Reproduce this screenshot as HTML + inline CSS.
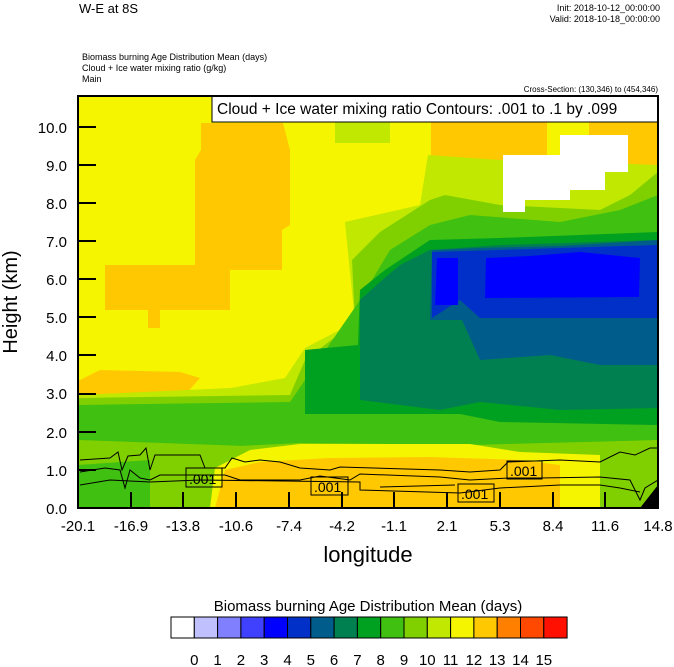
<!DOCTYPE html>
<html><head><meta charset="utf-8"><style>
body{margin:0;background:#fff;width:674px;height:667px;overflow:hidden;font-family:"Liberation Sans",sans-serif}
svg{position:absolute;left:0;top:0}
</style></head><body>
<svg width="674" height="667" viewBox="0 0 674 667" font-family="Liberation Sans, sans-serif">
<text x="79" y="13" font-size="13">W-E at 8S</text>
<text x="660" y="11" font-size="9" text-anchor="end">Init: 2018-10-12_00:00:00</text>
<text x="660" y="22" font-size="9" text-anchor="end">Valid: 2018-10-18_00:00:00</text>
<text x="82" y="60" font-size="9">Biomass burning Age Distribution Mean    (days)</text>
<text x="82" y="71" font-size="9">Cloud + Ice water mixing ratio    (g/kg)</text>
<text x="82" y="82" font-size="9">Main</text>
<text x="658" y="92" font-size="8" text-anchor="end">Cross-Section: (130,346) to (454,346)</text>
<defs><clipPath id="c"><rect x="78" y="96" width="580" height="412"/></clipPath></defs>
<g clip-path="url(#c)">
<rect x="78" y="96" width="580" height="412" fill="#f5f500"/>
<path d="M201,123 L201,150 L195,160 L195,265 L105,265 L105,310 L148,310 L148,328 L160,328 L160,310 L230,310 L230,270 L282,270 L282,230 L290,225 L290,150 L283,123 Z" fill="#ffc800"/>
<path d="M78,381 L100,370 L180,372 L200,378 L185,395 L78,396 Z" fill="#ffc800"/>
<path d="M431,96 L431,166 L547,166 L547,96 Z" fill="#ffc800"/>
<path d="M589,96 L589,135 L605,135 L605,165 L658,165 L658,96 Z" fill="#ffc800"/>
<path d="M335,121 L390,121 L390,143 L335,143 Z" fill="#c0e800"/>
<!-- light green -->
<path d="M345,222 L420,205 L428,155 L500,160 L658,165 L658,508 L78,508 L78,395 L231,388 L285,378 L305,348 L355,322 Z" fill="#c0e800"/>
<path d="M355,322 L352,260 L380,232 L430,200 L445,195 L500,205 L600,210 L630,195 L658,172 L658,508 L78,508 L78,398 L290,395 L305,360 Z" fill="#80d000"/>
<path d="M360,300 L390,250 L430,225 L470,215 L560,222 L620,210 L658,195 L658,440 L470,445 L300,448 L78,440 L78,405 L290,402 L305,380 Z" fill="#40c010"/>
<path d="M305,410 L305,350 L358,345 L360,290 L385,270 L430,240 L500,238 L658,232 L658,425 L500,422 L460,414 L305,414 Z" fill="#00a020"/>
<path d="M360,400 L360,300 L380,282 L400,265 L430,250 L500,245 L658,240 L658,408 L560,410 L480,402 L440,410 L400,405 Z" fill="#008050"/>
<path d="M430,320 L432,250 L480,248 L560,246 L658,240 L658,365 L600,365 L550,355 L480,360 L462,320 Z" fill="#005c8a"/>
<path d="M432,318 L432,252 L500,250 L560,248 L658,245 L658,318 L560,318 L480,318 L460,300 Z" fill="#0030c8"/>
<path d="M485,298 L486,258 L530,256 L580,252 L640,258 L639,297 Z" fill="#0000ff"/>
<path d="M435,305 L437,258 L458,258 L458,305 Z" fill="#0000ff"/>
<path d="M503,155 L503,212 L525,212 L525,200 L570,200 L570,190 L605,190 L605,172 L628,172 L628,135 L560,135 L560,155 Z" fill="#fff"/>
<!-- bottom -->
<path d="M78,450 L200,448 L260,445 L300,443 L480,445 L560,452 L658,445 L658,508 L78,508 Z" fill="#80d000"/>
<path d="M78,465 L150,460 L150,508 L78,508 Z" fill="#40c010"/>
<path d="M210,508 L215,468 L250,450 L300,444 L470,444 L520,452 L600,455 L600,508 Z" fill="#f5f500"/>
<path d="M215,508 L225,470 L260,462 L330,458 L430,457 L520,460 L560,465 L560,508 Z" fill="#ffc800"/>
<path d="M640,508 L658,485 L658,508 Z" fill="#000"/>
<g fill="none" stroke="#000" stroke-width="1">
<path d="M80,460 L110,458 L118,452 L122,470 L128,456 L140,455 L146,448 L150,470 L155,455 L200,455 L205,468 L225,468 L232,458 L245,462 L260,460 L280,462 L300,468 L330,470 L340,467 L440,470 L470,472 L500,470 L508,462 L560,460 L600,462 L620,452 L635,455 L650,448 L658,448"/>
<path d="M80,472 L105,468 L120,470 L125,488 L130,470 L140,478 L150,480 L160,475 L225,475 L240,480 L300,480 L320,476 L350,480 L360,474 L440,477 L470,480 L510,478 L540,478 L600,477 L630,480 L640,500 L645,488 L658,480"/>
<path d="M80,485 L110,480 L150,482 L200,480 L360,482 L360,490 L460,493 L500,488 L560,485 L600,485 L620,488 L640,492"/>
<path d="M380,487 L455,485"/>
</g>
<g font-size="14" fill="#000">
<rect x="186" y="468" width="36" height="19" fill="none" stroke="#000"/><text x="189" y="484">.001</text>
<rect x="311" y="477" width="37" height="18" fill="none" stroke="#000"/><text x="314" y="492">.001</text>
<rect x="458" y="484" width="36" height="18" fill="none" stroke="#000"/><text x="461" y="499">.001</text>
<rect x="507" y="461" width="35" height="18" fill="none" stroke="#000"/><text x="510" y="476">.001</text>
</g>
</g>
<rect x="212" y="96" width="446" height="26" fill="#fff" stroke="#000"/>
<text x="217" y="114" font-size="15.5">Cloud + Ice water mixing ratio Contours: .001 to .1 by .099</text>
<rect x="78" y="96" width="580" height="412" fill="none" stroke="#000" stroke-width="2"/>
<g stroke="#000" stroke-width="2">
<path d="M78,127h18M78,165h18M78,203h18M78,241h18M78,279h18M78,317h18M78,355h18M78,394h18M78,432h18M78,470h18"/>
<path d="M131,508v-16M183,508v-16M236,508v-16M289,508v-16M342,508v-16M394,508v-16M447,508v-16M500,508v-16M553,508v-16M605,508v-16"/>
</g>
<g font-size="15" text-anchor="end">
<text x="67" y="133">10.0</text><text x="67" y="171">9.0</text><text x="67" y="209">8.0</text><text x="67" y="247">7.0</text><text x="67" y="285">6.0</text><text x="67" y="323">5.0</text><text x="67" y="361">4.0</text><text x="67" y="399">3.0</text><text x="67" y="438">2.0</text><text x="67" y="476">1.0</text><text x="67" y="514">0.0</text>
</g>
<g font-size="15" text-anchor="middle">
<text x="78" y="531">-20.1</text><text x="131" y="531">-16.9</text><text x="183" y="531">-13.8</text><text x="236" y="531">-10.6</text><text x="289" y="531">-7.4</text><text x="342" y="531">-4.2</text><text x="394" y="531">-1.1</text><text x="447" y="531">2.1</text><text x="500" y="531">5.3</text><text x="553" y="531">8.4</text><text x="605" y="531">11.6</text><text x="658" y="531">14.8</text>
</g>
<text x="368" y="562" font-size="22" text-anchor="middle">longitude</text>
<text transform="translate(17,302) rotate(-90)" font-size="20" text-anchor="middle">Height (km)</text>
<text x="368" y="611" font-size="15" text-anchor="middle">Biomass burning Age Distribution Mean  (days)</text>
<g stroke="#000" stroke-width="1">
<rect x="171" y="617" width="23.3" height="21" fill="#ffffff"/>
<rect x="194.3" y="617" width="23.3" height="21" fill="#c0c0ff"/>
<rect x="217.6" y="617" width="23.3" height="21" fill="#8080ff"/>
<rect x="240.9" y="617" width="23.3" height="21" fill="#4040ff"/>
<rect x="264.2" y="617" width="23.3" height="21" fill="#0000ff"/>
<rect x="287.5" y="617" width="23.3" height="21" fill="#0030c8"/>
<rect x="310.8" y="617" width="23.3" height="21" fill="#005c8a"/>
<rect x="334.1" y="617" width="23.3" height="21" fill="#008050"/>
<rect x="357.4" y="617" width="23.3" height="21" fill="#00a020"/>
<rect x="380.7" y="617" width="23.3" height="21" fill="#40c010"/>
<rect x="404" y="617" width="23.3" height="21" fill="#80d000"/>
<rect x="427.3" y="617" width="23.3" height="21" fill="#c0e800"/>
<rect x="450.6" y="617" width="23.3" height="21" fill="#f5f500"/>
<rect x="473.9" y="617" width="23.3" height="21" fill="#ffc800"/>
<rect x="497.2" y="617" width="23.3" height="21" fill="#ff8000"/>
<rect x="520.5" y="617" width="23.3" height="21" fill="#ff4800"/>
<rect x="543.8" y="617" width="23.3" height="21" fill="#ff1000"/>
</g>
<g font-size="15" text-anchor="middle">
<text x="194.3" y="665">0</text><text x="217.6" y="665">1</text><text x="240.9" y="665">2</text><text x="264.2" y="665">3</text><text x="287.5" y="665">4</text><text x="310.8" y="665">5</text><text x="334.1" y="665">6</text><text x="357.4" y="665">7</text><text x="380.7" y="665">8</text><text x="404" y="665">9</text><text x="427.3" y="665">10</text><text x="450.6" y="665">11</text><text x="473.9" y="665">12</text><text x="497.2" y="665">13</text><text x="520.5" y="665">14</text><text x="543.8" y="665">15</text>
</g>
</svg>
</body></html>
